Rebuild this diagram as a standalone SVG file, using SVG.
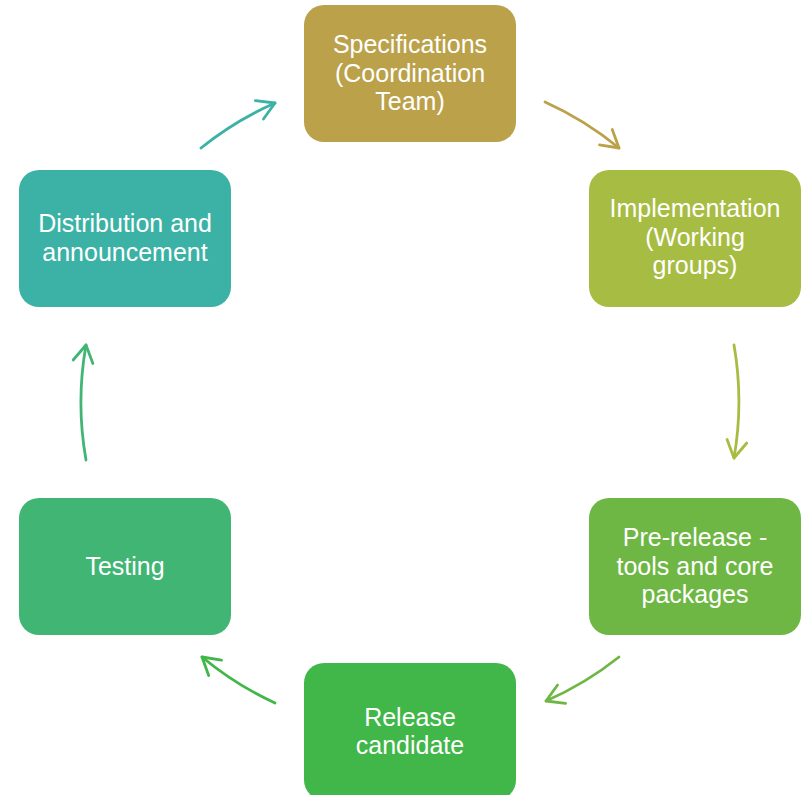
<svg xmlns="http://www.w3.org/2000/svg" width="808" height="795" viewBox="0 0 808 795">
<style>
  .box { stroke: none; }
  .lbl { font-family: "Liberation Sans", Arial, sans-serif; font-size: 25px; fill: #ffffff; text-anchor: middle; }
  .conn { fill: none; stroke-width: 2.8; stroke-linecap: round; }
  .head { fill: none; stroke-width: 2.8; stroke-linecap: round; stroke-linejoin: round; }
</style>
<defs>
  <marker id="m1" markerUnits="userSpaceOnUse" markerWidth="40" markerHeight="40" refX="0" refY="0" orient="auto" overflow="visible" viewBox="-20 -20 40 40"><path class="head" d="M-17,-10 L0,0 L-17,10" stroke="#BBA14A"/></marker>
  <marker id="m2" markerUnits="userSpaceOnUse" markerWidth="40" markerHeight="40" refX="0" refY="0" orient="auto" overflow="visible" viewBox="-20 -20 40 40"><path class="head" d="M-17,-10 L0,0 L-17,10" stroke="#A7BC42"/></marker>
  <marker id="m3" markerUnits="userSpaceOnUse" markerWidth="40" markerHeight="40" refX="0" refY="0" orient="auto" overflow="visible" viewBox="-20 -20 40 40"><path class="head" d="M-17,-10 L0,0 L-17,10" stroke="#6FB744"/></marker>
  <marker id="m4" markerUnits="userSpaceOnUse" markerWidth="40" markerHeight="40" refX="0" refY="0" orient="auto" overflow="visible" viewBox="-20 -20 40 40"><path class="head" d="M-17,-10 L0,0 L-17,10" stroke="#41B649"/></marker>
  <marker id="m5" markerUnits="userSpaceOnUse" markerWidth="40" markerHeight="40" refX="0" refY="0" orient="auto" overflow="visible" viewBox="-20 -20 40 40"><path class="head" d="M-17,-10 L0,0 L-17,10" stroke="#40B574"/></marker>
  <marker id="m6" markerUnits="userSpaceOnUse" markerWidth="40" markerHeight="40" refX="0" refY="0" orient="auto" overflow="visible" viewBox="-20 -20 40 40"><path class="head" d="M-17,-10 L0,0 L-17,10" stroke="#3BB2A5"/></marker>
</defs>
<rect width="808" height="795" fill="#ffffff"/>
<g id="connectors">
  <path class="conn" stroke="#BBA14A" marker-end="url(#m1)" d="M545,102 A329,329 0 0 1 619,148"/>
  <path class="conn" stroke="#A7BC42" marker-end="url(#m2)" d="M734,345 A329,329 0 0 1 734,458"/>
  <path class="conn" stroke="#6FB744" marker-end="url(#m3)" d="M619,657 A329,329 0 0 1 546,701"/>
  <path class="conn" stroke="#41B649" marker-end="url(#m4)" d="M275,703 A329,329 0 0 1 202,657"/>
  <path class="conn" stroke="#40B574" marker-end="url(#m5)" d="M86,460 A329,329 0 0 1 86,345"/>
  <path class="conn" stroke="#3BB2A5" marker-end="url(#m6)" d="M201,148 A329,329 0 0 1 275,103"/>
</g>
<g id="specifications">
  <rect class="box" x="304" y="5" width="212" height="137" rx="20" fill="#BBA14A"/>
  <text class="lbl" x="410" y="53">Specifications</text>
  <text class="lbl" x="410" y="81.5">(Coordination</text>
  <text class="lbl" x="410" y="110">Team)</text>
</g>
<g id="implementation">
  <rect class="box" x="589" y="170" width="212" height="137" rx="20" fill="#A7BC42"/>
  <text class="lbl" x="695" y="217">Implementation</text>
  <text class="lbl" x="695" y="245.5">(Working</text>
  <text class="lbl" x="695" y="274">groups)</text>
</g>
<g id="prerelease">
  <rect class="box" x="589" y="498" width="212" height="137" rx="20" fill="#6FB744"/>
  <text class="lbl" x="695" y="546">Pre-release -</text>
  <text class="lbl" x="695" y="574.5">tools and core</text>
  <text class="lbl" x="695" y="603">packages</text>
</g>
<g id="release">
  <rect class="box" x="304" y="663" width="212" height="137" rx="20" fill="#41B649"/>
  <text class="lbl" x="410" y="725.5">Release</text>
  <text class="lbl" x="410" y="754">candidate</text>
</g>
<g id="testing">
  <rect class="box" x="19" y="498" width="212" height="137" rx="20" fill="#40B574"/>
  <text class="lbl" x="125" y="575">Testing</text>
</g>
<g id="distribution">
  <rect class="box" x="19" y="170" width="212" height="137" rx="20" fill="#3BB2A5"/>
  <text class="lbl" x="125" y="232">Distribution and</text>
  <text class="lbl" x="125" y="260.5">announcement</text>
</g>
</svg>
